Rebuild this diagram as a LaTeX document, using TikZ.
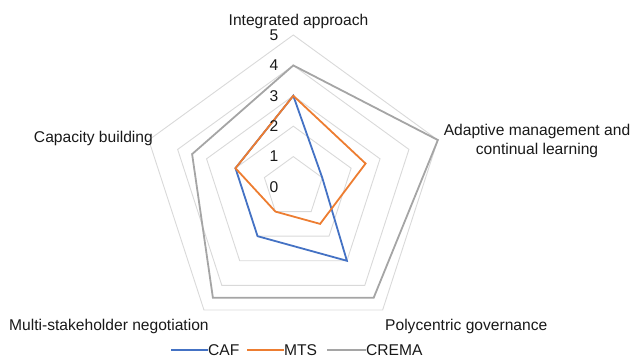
\documentclass[tikz,border=0pt]{standalone}
\usepackage{fontspec}
\setmainfont{Liberation Sans}
\definecolor{cafblue}{HTML}{4472C4}
\definecolor{mtsorange}{HTML}{ED7D31}
\definecolor{cremagray}{HTML}{A5A5A5}
\definecolor{gridgray}{HTML}{D9D9D9}
\begin{document}
\begin{tikzpicture}[x=1pt,y=1pt,
  font=\fontsize{15.6}{19}\selectfont,
  gridline/.style={draw=gridgray, line width=0.9pt, line join=miter},
  series/.style={line width=1.8pt, line join=miter},
  lbl/.style={inner sep=0pt, text=black!90},
  lvl/.style={inner sep=0pt, text=black!90}]
\useasboundingbox (0,0) rectangle (633,360);
\def\u{30.4}
\coordinate (C) at (293.3,173);
\begin{scope}[shift={(C)}]
  % grid pentagons
  \foreach \r in {1,...,5}
    \draw[gridline] (90:\r*\u) -- (18:\r*\u) -- (-54:\r*\u) -- (-126:\r*\u) -- (162:\r*\u) -- cycle;
  % data points
  \coordinate (caf1) at (90:3*\u);
  \coordinate (caf2) at (18:1*\u);
  \coordinate (caf3) at (-54:3*\u);
  \coordinate (caf4) at (-126:2*\u);
  \coordinate (caf5) at (162:2*\u);
  \coordinate (mts1) at (90:3*\u);
  \coordinate (mts2) at (18:2.5*\u);
  \coordinate (mts3) at (-54:1.5*\u);
  \coordinate (mts4) at (-126:1*\u);
  \coordinate (mts5) at (162:2*\u);
  \coordinate (cre1) at (90:4*\u);
  \coordinate (cre2) at (18:5*\u);
  \coordinate (cre3) at (-54:4.5*\u);
  \coordinate (cre4) at (-126:4.5*\u);
  \coordinate (cre5) at (162:3.5*\u);
\end{scope}
\draw[series, cafblue] (caf1) -- (caf2) -- (caf3) -- (caf4) -- (caf5) -- cycle;
\draw[series, mtsorange] (mts1) -- (mts2) -- (mts3) -- (mts4) -- (mts5) -- cycle;
\draw[series, cremagray] (cre1) -- (cre2) -- (cre3) -- (cre4) -- (cre5) -- cycle;
% level labels
\foreach \k in {0,...,5}
  \node[lvl] (lv\k) at (274,173+\k*\u) {\k};
% category labels
\node[lbl, anchor=base] (cat1) at (298.5,335) {Integrated approach};
\node[lbl, anchor=base, align=center] (cat2) at (537,206) {Adaptive management and\\continual learning};
\node[lbl, anchor=base west] (cat3) at (385,30) {Polycentric governance};
\node[lbl, anchor=base west] (cat4) at (9,30) {Multi-stakeholder negotiation};
\node[lbl, anchor=base east] (cat5) at (153,218) {Capacity building};
% legend
\node[lbl, anchor=west] (lcaf) at (208,10) {CAF};
\node[lbl, anchor=west] (lmts) at (284,10) {MTS};
\node[lbl, anchor=west] (lcre) at (366,10) {CREMA};
\coordinate (lcafs) at (171,10);
\coordinate (lmtss) at (247,10);
\coordinate (lcres) at (327,10);
\draw[series, cafblue] (lcafs) -- (lcaf.west);
\draw[series, mtsorange] (lmtss) -- (lmts.west);
\draw[series, cremagray] (lcres) -- (lcre.west);
\end{tikzpicture}
\end{document}
